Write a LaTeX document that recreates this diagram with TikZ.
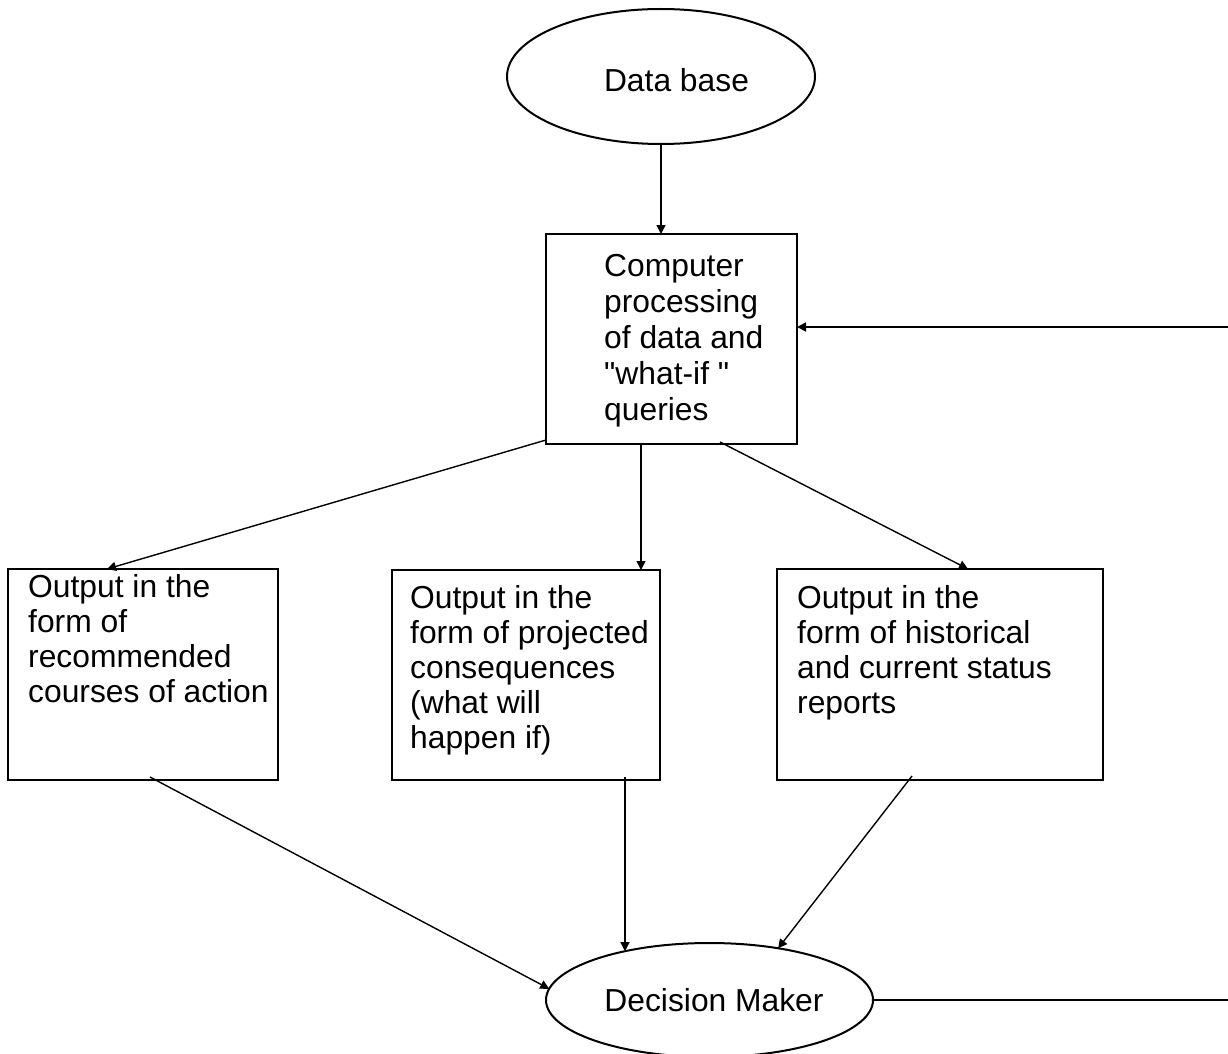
\documentclass[tikz,border=0pt]{standalone}
\usepackage{fontspec}
% family without TeX ligatures, so that " stays a straight double quote
\newfontfamily\arialish{Liberation Sans}
\usetikzlibrary{arrows.meta,shapes.geometric,calc}

% multi-line left-aligned text whose first baseline sits at the node's base
\newcommand{\lines}[1]{\begin{tabular}[t]{@{}l@{}}#1\end{tabular}}

\begin{document}
\begin{tikzpicture}[
    x=1pt, y=-1pt,
    box/.style={draw, line width=2.2pt, inner sep=0pt, outer sep=0pt},
    oval/.style={draw, ellipse, line width=2pt, inner sep=0pt, outer sep=0pt},
    txt/.style={inner sep=0pt, anchor=base west, font=\arialish\fontsize{31.8}{35}\selectfont},
    ctxt/.style={inner sep=0pt, anchor=base, font=\arialish\fontsize{31.8}{35}\selectfont},
    arr/.style={line width=1.4pt, -{Triangle[length=9pt,width=9pt]}},
    plain/.style={line width=1.8pt}
  ]
  \useasboundingbox (0,0) rectangle (1228,1054);

  % shapes
  \node[oval, minimum width=308pt, minimum height=135pt] (db) at (661,76.5) {};
  \node[ctxt] (dbtext) at (676.5,92) {Data base};

  \node[box, minimum width=251pt, minimum height=210pt] (comp) at (671.5,339) {};
  \node[txt, font=\arialish\fontsize{31.8}{36}\selectfont] (comptext) at (604,276)
    {\lines{Computer\\processing\\of data and\\"what-if "\\queries}};

  \node[box, minimum width=270pt, minimum height=211pt] (left) at (143,674.5) {};
  \node[txt] (lefttext) at (28,597)
    {\lines{Output in the\\form of\\recommended\\courses of action}};

  \node[box, minimum width=268pt, minimum height=210pt] (mid) at (526,675) {};
  \node[txt] (midtext) at (410,608)
    {\lines{Output in the\\form of projected\\consequences\\(what will\\happen if)}};

  \node[box, minimum width=326pt, minimum height=211pt] (right) at (940,674.5) {};
  \node[txt] (righttext) at (797,608)
    {\lines{Output in the\\form of historical\\and current status\\reports}};

  \node[oval, minimum width=327pt, minimum height=114pt] (dm) at (709.5,1000) {};
  \node[ctxt] (dmtext) at (714,1011) {Decision Maker};

  % free ends of the feedback loop at the right margin
  \coordinate (fbin) at (1228,327);
  \coordinate (dmout) at (1228,1000);

  % connectors
  \draw[arr] (db.south) -- (db.south |- comp.north);
  \draw[plain, -{Triangle[length=9pt,width=9pt]}] (fbin) -- (fbin -| comp.east);

  \draw[arr] ([yshift=4pt]comp.south west) -- ([xshift=99pt]left.north west);
  \draw[arr] ([xshift=95pt]comp.south west) -- ([xshift=95pt]comp.south west |- mid.north);
  \draw[arr] ([xshift=174pt,yshift=2pt]comp.south west) -- ([xshift=191pt]right.north west);

  \draw[arr] ([xshift=142pt,yshift=3pt]left.south west) -- (dm.176);
  \draw[arr] ([yshift=3pt]dm.150 |- mid.south) -- (dm.150);
  \draw[arr] ([xshift=135pt,yshift=4pt]right.south west) -- (dm.37);

  \draw[plain] (dm.east) -- (dmout);
\end{tikzpicture}
\end{document}
